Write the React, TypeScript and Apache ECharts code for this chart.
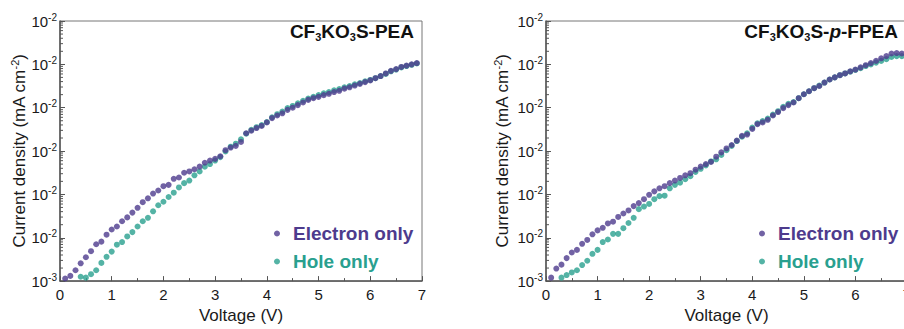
import React, { useEffect, useRef } from "react";
import * as echarts from "echarts";

// Voltage (V) for every measured point
const voltage = [
  0.1, 0.2, 0.3, 0.4, 0.5, 0.6, 0.7, 0.8, 0.9, 1.0,
  1.1, 1.2, 1.3, 1.4, 1.5, 1.6, 1.7, 1.8, 1.9, 2.0,
  2.1, 2.2, 2.3, 2.4, 2.5, 2.6, 2.7, 2.8, 2.9, 3.0,
  3.1, 3.2, 3.3, 3.4, 3.5, 3.6, 3.7, 3.8, 3.9, 4.0,
  4.1, 4.2, 4.3, 4.4, 4.5, 4.6, 4.7, 4.8, 4.9, 5.0,
  5.1, 5.2, 5.3, 5.4, 5.5, 5.6, 5.7, 5.8, 5.9, 6.0,
  6.1, 6.2, 6.3, 6.4, 6.5, 6.6, 6.7, 6.8, 6.9,
];

// log10 of current density (mA cm^-2)
// CF3KO3S-PEA, electron only (from 0.1 V)
const peaElectronLog = [
  -2.94, -2.88, -2.75, -2.59, -2.45, -2.31, -2.15, -2.09, -1.93, -1.81,
  -1.74, -1.62, -1.53, -1.42, -1.31, -1.18, -1.09, -0.98, -0.91, -0.81,
  -0.78, -0.64, -0.61, -0.50, -0.47, -0.42, -0.36, -0.27, -0.22, -0.18,
  -0.12, 0.02, 0.08, 0.12, 0.21, 0.41, 0.47, 0.53, 0.58, 0.66,
  0.76, 0.82, 0.87, 0.95, 1.00, 1.06, 1.12, 1.18, 1.22, 1.25,
  1.29, 1.32, 1.36, 1.39, 1.44, 1.47, 1.51, 1.55, 1.59, 1.63,
  1.68, 1.73, 1.79, 1.85, 1.89, 1.94, 1.97, 2.00, 2.03,
];
// CF3KO3S-PEA, hole only (from 0.4 V)
const peaHoleLog = [
  -2.90, -2.92, -2.84, -2.75, -2.58, -2.44, -2.32,
  -2.16, -2.10, -1.97, -1.87, -1.74, -1.62, -1.54, -1.39, -1.25, -1.17,
  -1.06, -0.96, -0.84, -0.74, -0.68, -0.56, -0.47, -0.36, -0.30, -0.22,
  -0.14, -0.01, 0.10, 0.17, 0.27, 0.40, 0.49, 0.55, 0.60, 0.67,
  0.78, 0.85, 0.91, 0.99, 1.04, 1.10, 1.16, 1.21, 1.25, 1.29,
  1.33, 1.36, 1.40, 1.43, 1.47, 1.50, 1.54, 1.57, 1.61, 1.64,
  1.68, 1.73, 1.78, 1.84, 1.88, 1.93, 1.96, 1.99, 2.02,
];
// CF3KO3S-p-FPEA, electron only (from 0.1 V)
const fpeaElectronLog = [
  -2.92, -2.71, -2.62, -2.47, -2.34, -2.28, -2.14, -2.05, -1.92, -1.83,
  -1.77, -1.67, -1.63, -1.52, -1.44, -1.37, -1.27, -1.20, -1.11, -1.01,
  -0.93, -0.86, -0.81, -0.74, -0.68, -0.62, -0.56, -0.51, -0.43, -0.36,
  -0.30, -0.25, -0.13, -0.03, 0.06, 0.14, 0.24, 0.35, 0.38, 0.51,
  0.62, 0.66, 0.72, 0.82, 0.90, 0.99, 1.06, 1.12, 1.22, 1.31,
  1.38, 1.45, 1.50, 1.58, 1.65, 1.70, 1.75, 1.79, 1.84, 1.88,
  1.93, 1.98, 2.03, 2.08, 2.14, 2.19, 2.25, 2.26, 2.25,
];
// CF3KO3S-p-FPEA, hole only (from 0.3 V)
const fpeaHoleLog = [
  -2.92, -2.86, -2.80, -2.75, -2.63, -2.53, -2.37, -2.28,
  -2.10, -2.04, -1.91, -1.91, -1.78, -1.66, -1.54, -1.34, -1.28, -1.22,
  -1.11, -1.04, -1.03, -0.86, -0.78, -0.73, -0.65, -0.58, -0.48, -0.41,
  -0.33, -0.24, -0.19, -0.09, 0.02, 0.12, 0.23, 0.33, 0.41, 0.54,
  0.64, 0.69, 0.75, 0.84, 0.92, 1.02, 1.09, 1.13, 1.22, 1.31,
  1.38, 1.45, 1.51, 1.58, 1.65, 1.70, 1.75, 1.79, 1.83, 1.87,
  1.91, 1.96, 2.00, 2.04, 2.08, 2.12, 2.17, 2.19, 2.19,
];

const xTicks = [0, 7];
const yRange = [0.001, 1000];
const minorMultipliers = [2, 3, 4, 5, 6, 7, 8, 9];
const decadeExponents = [-3, -2, -1, 0, 1, 2];
const seriesNames = ["Electron only", "Hole only"];

const PURPLE = "#4d3b8d";
const TEAL = "#29a08f";
const AXIS = "#555555";
const FONT = "'Liberation Sans', Arial, Helvetica, sans-serif";

const toPairs = (logs: number[], offset: number) =>
  logs.map((l, i) => [voltage[i + offset], Math.pow(10, l)]);

export default function App() {
  const ref = useRef<HTMLDivElement>(null);

  useEffect(() => {
    if (!ref.current) return;
    const chart = echarts.init(ref.current, undefined, { renderer: "svg" });

    const grids = [
      { left: 60, top: 21, width: 362, height: 266 },
      { left: 546, top: 21, width: 361, height: 266 },
    ];
    const yNameGaps = [31, 34];

    const minorVals: number[][] = [];
    decadeExponents.forEach((d) =>
      minorMultipliers.forEach((m) => minorVals.push([0, m * Math.pow(10, d)]))
    );

    const xAxes = grids.map((_, i) => ({
      type: "value",
      gridIndex: i,
      min: xTicks[0],
      max: xTicks[1],
      interval: 1,
      axisLine: { show: true, onZero: false, lineStyle: { color: AXIS, width: 1.5 } },
      axisTick: { show: true, inside: true, length: 5, lineStyle: { color: AXIS } },
      minorTick: { show: true, splitNumber: 2, length: 3, lineStyle: { color: AXIS } },
      splitLine: { show: false },
      axisLabel: { margin: 6, fontSize: 15, color: "#1a1a1a", fontFamily: FONT },
      name: "Voltage (V)",
      nameLocation: "middle",
      nameGap: 22,
      nameTextStyle: { fontSize: 17, color: "#1a1a1a", fontFamily: FONT },
    }));

    const yAxes = grids.map((_, i) => ({
      type: "log",
      logBase: 10,
      gridIndex: i,
      min: yRange[0],
      max: yRange[1],
      splitNumber: 6,
      axisLine: { show: true, onZero: false, lineStyle: { color: AXIS, width: 1.5 } },
      axisTick: { show: true, inside: true, length: 5, lineStyle: { color: AXIS } },
      splitLine: { show: false },
      axisLabel: {
        margin: 3,
        color: "#1a1a1a",
        fontFamily: FONT,
        formatter: (v: number) => (v < 0.002 ? "{b|10}{s|-3}" : "{b|10}{s|-2}"),
        rich: {
          b: { fontSize: 15, lineHeight: 18, fontFamily: FONT, color: "#1a1a1a" },
          s: { fontSize: 10, lineHeight: 10, verticalAlign: "top", fontFamily: FONT, color: "#1a1a1a" },
        },
      },
      name: "{a|Current density (mA cm}{s|-2}{a|)}",
      nameLocation: "middle",
      nameGap: yNameGaps[i],
      nameTextStyle: {
        rich: {
          a: { fontSize: 17, lineHeight: 20, fontFamily: FONT, color: "#1a1a1a" },
          s: { fontSize: 11, lineHeight: 11, verticalAlign: "top", fontFamily: FONT, color: "#1a1a1a" },
        },
      },
    }));

    const datasets = [
      { e: toPairs(peaElectronLog, 0), h: toPairs(peaHoleLog, 3) },
      { e: toPairs(fpeaElectronLog, 0), h: toPairs(fpeaHoleLog, 2) },
    ];

    const series: any[] = [];
    datasets.forEach((d, i) => {
      series.push({
        type: "scatter",
        name: seriesNames[1],
        xAxisIndex: i,
        yAxisIndex: i,
        data: d.h,
        symbol: "circle",
        symbolSize: 6,
        itemStyle: { color: TEAL },
        z: 2,
        silent: true,
      });
      series.push({
        type: "scatter",
        name: seriesNames[0],
        xAxisIndex: i,
        yAxisIndex: i,
        data: d.e,
        symbol: "circle",
        symbolSize: 6,
        itemStyle: { color: PURPLE },
        z: 3,
        silent: true,
      });
      series.push({
        type: "custom",
        xAxisIndex: i,
        yAxisIndex: i,
        data: minorVals,
        silent: true,
        z: 4,
        renderItem: (_p: any, api: any) => {
          const pt = api.coord([0, api.value(1)]);
          return {
            type: "line",
            shape: { x1: pt[0], y1: pt[1], x2: pt[0] + 3, y2: pt[1] },
            style: { stroke: AXIS, lineWidth: 1 },
          };
        },
      });
    });

    const legendLefts = [274, 759];
    const legends = legendLefts.map((left) => ({
      orient: "vertical",
      left,
      top: 224,
      padding: 0,
      icon: "circle",
      itemWidth: 6,
      itemHeight: 6,
      itemGap: 9,
      selectedMode: false,
      data: [
        { name: seriesNames[0], textStyle: { color: PURPLE } },
        { name: seriesNames[1], textStyle: { color: TEAL } },
      ],
      textStyle: {
        fontSize: 19,
        lineHeight: 19,
        fontWeight: "bold",
        fontFamily: FONT,
        padding: [0, 0, 0, 8],
      },
    }));

    const titleRich = {
      n: { fontSize: 19, lineHeight: 22, fontWeight: "bold", fontFamily: FONT, fill: "#111" },
      s: { fontSize: 11, lineHeight: 11, fontWeight: "bold", verticalAlign: "bottom", fontFamily: FONT, fill: "#111" },
      i: { fontSize: 19, lineHeight: 22, fontWeight: "bold", fontStyle: "italic", fontFamily: FONT, fill: "#111" },
    };

    chart.setOption({
      animation: false,
      backgroundColor: "#ffffff",
      grid: grids.map((g) => ({ ...g, show: true, borderColor: "#777", borderWidth: 1, backgroundColor: "transparent" })),
      xAxis: xAxes,
      yAxis: yAxes,
      legend: legends,
      series,
      graphic: [
        {
          type: "text",
          x: 414,
          y: 31,
          style: {
            text: "{n|CF}{s|3}{n|KO}{s|3}{n|S-PEA}",
            align: "right",
            verticalAlign: "middle",
            rich: titleRich,
          },
        },
        {
          type: "text",
          x: 898,
          y: 31,
          style: {
            text: "{n|CF}{s|3}{n|KO}{s|3}{n|S-}{i|p}{n|-FPEA}",
            align: "right",
            verticalAlign: "middle",
            rich: titleRich,
          },
        },
      ],
    });

    return () => chart.dispose();
  }, []);

  return (
    <div
      ref={ref}
      style={{ position: "fixed", left: 0, top: 0, width: 930, height: 329, background: "#fff" }}
    />
  );
}
